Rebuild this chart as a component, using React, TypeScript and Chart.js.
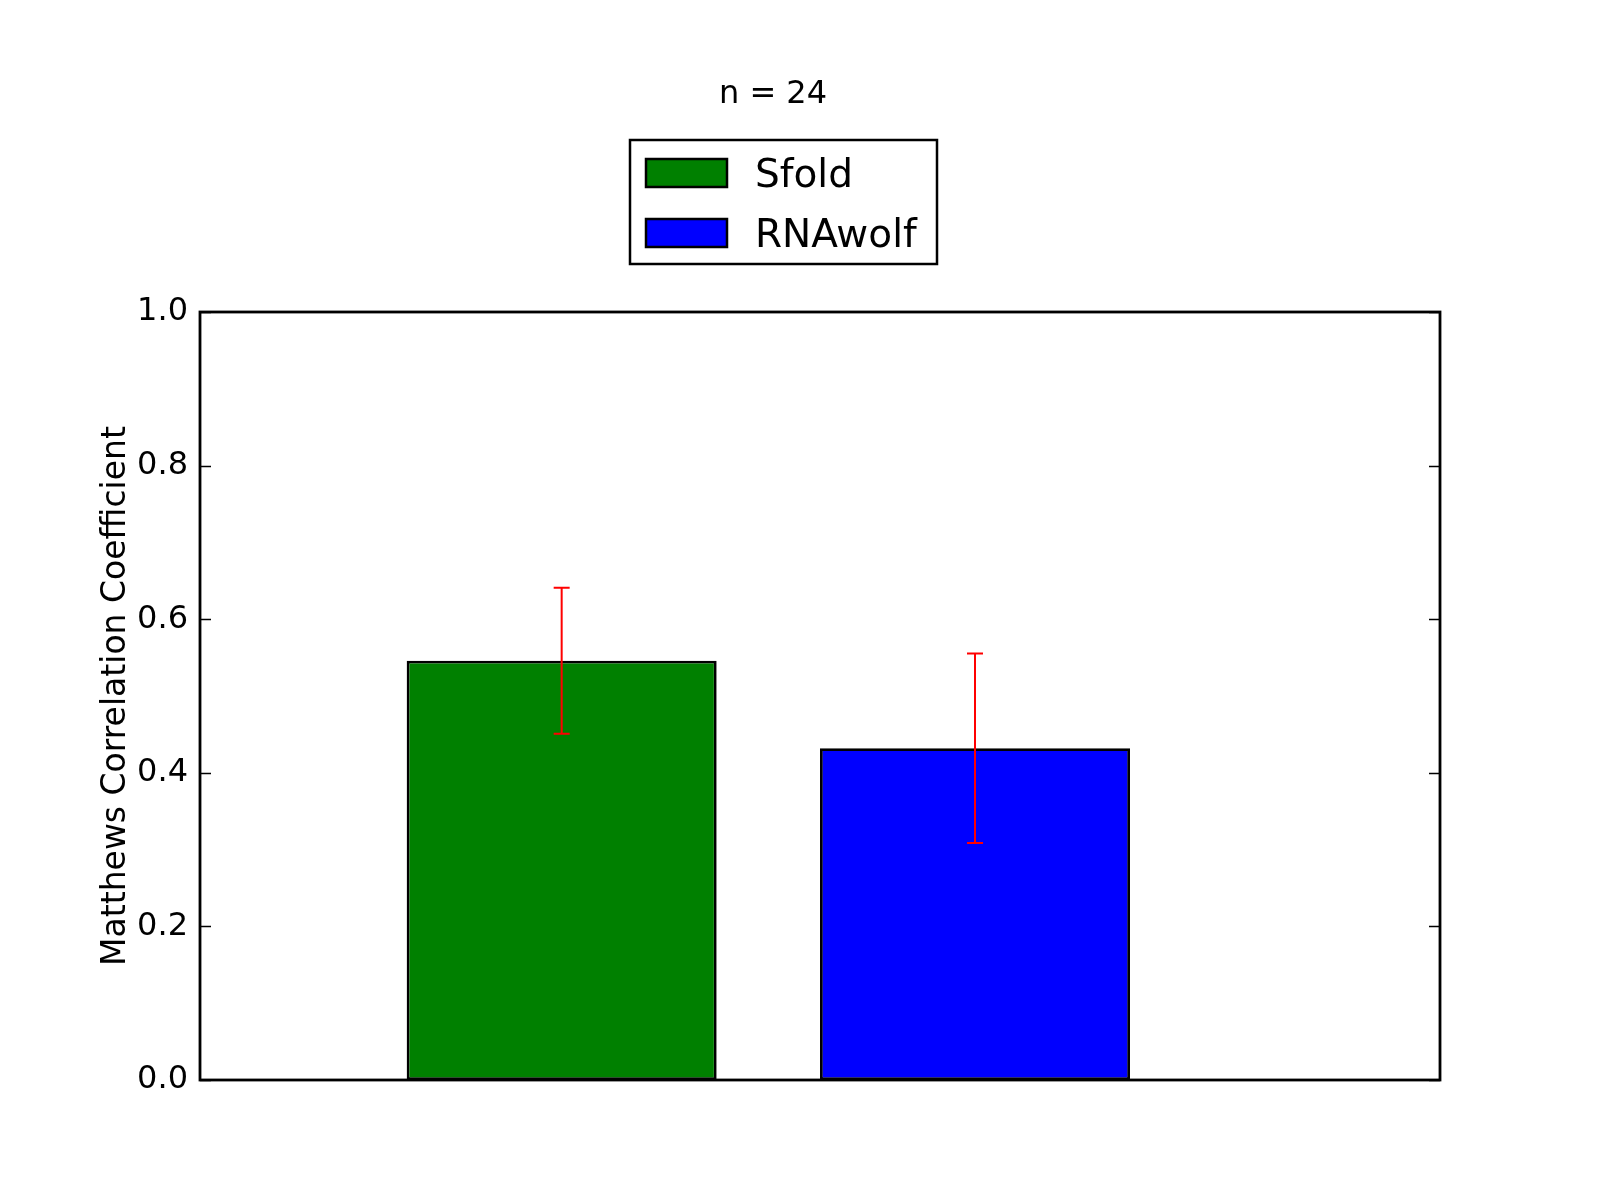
import React, { useEffect, useRef } from "react";
import { Chart, registerables } from "chart.js";

Chart.register(...registerables);

const categories = ["Sfold", "RNAwolf"];
const barColors = ["#008000", "#0000ff"];
const mccValues = [0.546, 0.432];
const mccErrors = [0.095, 0.1235];
const barPositions = [0.875, 1.875];
const yTicks = [0, 0.2, 0.4, 0.6, 0.8, 1.0];
const titleText = "n = 24";
const yTitle = "Matthews Correlation Coefficient";

const FONT = "'DejaVu Sans', 'Bitstream Vera Sans', sans-serif";

const decorPlugin = {
  id: "decor",
  afterDatasetsDraw(chart: any) {
    const ctx = chart.ctx;
    const y = chart.scales.y;
    ctx.save();
    ctx.strokeStyle = "#ff0000";
    ctx.lineWidth = 2;
    chart.data.datasets.forEach((ds: any, di: number) => {
      const meta = chart.getDatasetMeta(di);
      meta.data.forEach((el: any, i: number) => {
        const v = ds.data[i].y;
        const e = ds.errors[i];
        const x = el.x;
        const yt = y.getPixelForValue(v + e);
        const yb = y.getPixelForValue(v - e);
        ctx.beginPath();
        ctx.moveTo(x, yt);
        ctx.lineTo(x, yb);
        ctx.moveTo(x - 8, yt);
        ctx.lineTo(x + 8, yt);
        ctx.moveTo(x - 8, yb);
        ctx.lineTo(x + 8, yb);
        ctx.stroke();
      });
    });
    ctx.restore();
  },
  afterDraw(chart: any) {
    const ctx = chart.ctx;
    const a = chart.chartArea;
    const y = chart.scales.y;
    ctx.save();
    ctx.strokeStyle = "#000";
    ctx.lineWidth = 1.5;
    yTicks.forEach((t) => {
      const py = Math.round(y.getPixelForValue(t)) + 0.5;
      ctx.beginPath();
      ctx.moveTo(a.left, py);
      ctx.lineTo(a.left + 11, py);
      ctx.moveTo(a.right, py);
      ctx.lineTo(a.right - 11, py);
      ctx.stroke();
    });
    ctx.lineWidth = 2.8;
    ctx.strokeRect(a.left, a.top, a.right - a.left, a.bottom - a.top);

    ctx.fillStyle = "#000";
    ctx.font = `32px ${FONT}`;
    ctx.textAlign = "center";
    ctx.textBaseline = "alphabetic";
    ctx.fillText(titleText, 773, 103);

    const lx = 630, ly = 140, lw = 307, lh = 124;
    ctx.fillStyle = "#fff";
    ctx.fillRect(lx, ly, lw, lh);
    ctx.lineWidth = 2.5;
    ctx.strokeStyle = "#000";
    ctx.strokeRect(lx, ly, lw, lh);
    ctx.font = `39px ${FONT}`;
    ctx.textAlign = "left";
    chart.data.datasets.forEach((ds: any, i: number) => {
      const sy = 159 + i * 60;
      ctx.fillStyle = ds.backgroundColor;
      ctx.fillRect(646, sy, 81, 28);
      ctx.strokeRect(646, sy, 81, 28);
      ctx.fillStyle = "#000";
      ctx.fillText(ds.label, 755, sy + 28);
    });
    ctx.restore();
  },
};

export default function App() {
  const ref = useRef<HTMLCanvasElement>(null);
  useEffect(() => {
    document.body.style.margin = "0";
    const canvas = ref.current!;
    const chart = new Chart(canvas, {
      type: "bar",
      data: {
        datasets: categories.map((c, i) => ({
          label: c,
          data: [{ x: barPositions[i], y: mccValues[i] }],
          errors: [mccErrors[i]],
          backgroundColor: barColors[i],
          borderColor: "#000",
          borderWidth: 2.8,
          borderSkipped: false,
          grouped: false,
          barPercentage: 0.75,
          categoryPercentage: 1.0,
        })) as any,
      },
      options: {
        responsive: false,
        animation: false,
        devicePixelRatio: 1,
        layout: { padding: { left: 0, top: 312, right: 160, bottom: 120 } },
        plugins: {
          legend: { display: false },
          title: { display: false },
          tooltip: { enabled: false },
        },
        scales: {
          x: {
            type: "linear",
            min: 0,
            max: 3,
            offset: false,
            grid: { offset: false },
            display: false,
            ticks: { stepSize: 1 },
          },
          y: {
            min: 0,
            max: 1,
            afterBuildTicks: (s: any) => {
              s.ticks = yTicks.map((v) => ({ value: v }));
            },
            afterFit: (s: any) => {
              s.width = 200;
            },
            grid: { display: false, drawTicks: false },
            border: { display: false },
            ticks: {
              padding: 12,
              color: "#000",
              font: { family: FONT, size: 32 },
              callback: (v: any) => Number(v).toFixed(1),
            },
            title: {
              display: true,
              text: yTitle,
              color: "#000",
              font: { family: FONT, size: 33 },
              padding: { top: 97, bottom: 0 },
            },
          },
        },
      } as any,
      plugins: [decorPlugin],
    });
    return () => chart.destroy();
  }, []);
  return (
    <div style={{ width: 1600, height: 1200, background: "#fff" }}>
      <canvas ref={ref} width={1600} height={1200} style={{ width: 1600, height: 1200, display: "block" }} />
    </div>
  );
}
